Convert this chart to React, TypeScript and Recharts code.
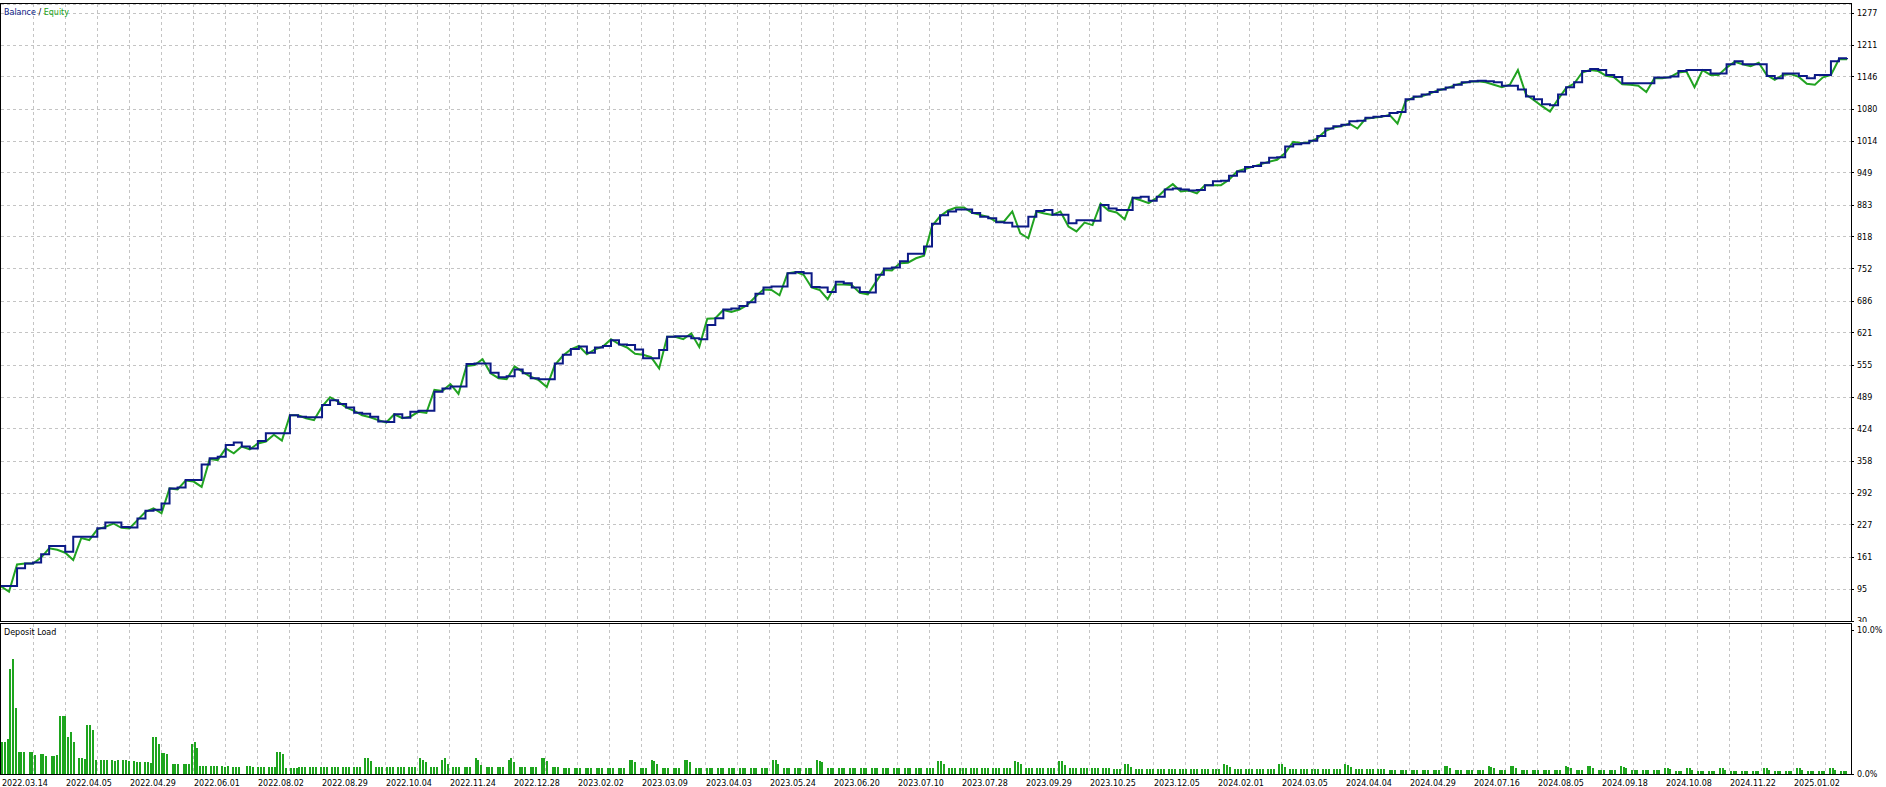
import React from 'react';
import { LineChart, Line, BarChart, Bar, XAxis, YAxis, CartesianGrid } from 'recharts';

// Balance / equity sampled along the deal axis (index i)
const balance = [
  102, 102, 138, 148, 150, 167, 184, 184, 172, 203,
  203, 203, 220, 232, 232, 223, 222, 240, 256, 258,
  271, 302, 304, 319, 319, 351, 364, 367, 391, 396,
  388, 384, 399, 415, 415, 415, 452, 449, 448, 448,
  473, 483, 475, 468, 457, 455, 449, 439, 438, 454,
  447, 459, 461, 461, 500, 507, 511, 511, 557, 558,
  558, 539, 530, 532, 546, 538, 528, 526, 526, 558,
  576, 588, 593, 580, 591, 594, 606, 597, 596, 587,
  569, 569, 586, 613, 614, 614, 610, 608, 637, 651,
  669, 671, 676, 684, 701, 714, 716, 716, 743, 746,
  743, 715, 714, 705, 726, 723, 714, 705, 704, 740,
  753, 755, 768, 783, 783, 798, 845, 862, 870, 874,
  874, 867, 859, 856, 848, 847, 839, 839, 859, 871,
  873, 863, 863, 846, 852, 852, 851, 883, 876, 873,
  873, 898, 900, 892, 900, 915, 917, 915, 913, 914,
  924, 932, 933, 943, 952, 961, 963, 970, 980, 981,
  1003, 1008, 1010, 1015, 1025, 1040, 1045, 1048, 1055, 1056,
  1062, 1064, 1066, 1072, 1074, 1100, 1106, 1110, 1115, 1120,
  1124, 1130, 1135, 1137, 1138, 1137, 1135, 1128, 1128, 1120,
  1106, 1100, 1090, 1088, 1110, 1125, 1135, 1158, 1162, 1160,
  1150, 1146, 1133, 1133, 1133, 1133, 1145, 1145, 1147, 1158,
  1160, 1160, 1160, 1153, 1153, 1172, 1178, 1172, 1172, 1172,
  1148, 1143, 1153, 1153, 1148, 1143, 1150, 1150, 1178, 1184,
  1185,
];

const equity = [
  101, 90, 146, 148, 148, 160, 179, 176, 170, 155,
  200, 196, 218, 223, 230, 221, 220, 237, 254, 261,
  251, 302, 300, 318, 316, 305, 362, 360, 384, 374,
  388, 382, 394, 398, 412, 400, 452, 452, 446, 442,
  470, 489, 480, 468, 461, 452, 448, 442, 437, 454,
  446, 449, 459, 457, 504, 502, 516, 496, 553, 555,
  567, 538, 528, 526, 552, 541, 531, 524, 510, 555,
  574, 587, 594, 577, 587, 593, 608, 598, 591, 578,
  576, 571, 548, 613, 613, 608, 620, 592, 650, 651,
  668, 664, 669, 678, 695, 710, 709, 698, 743, 746,
  740, 714, 709, 690, 720, 720, 719, 703, 700, 725,
  750, 749, 764, 765, 774, 779, 840, 860, 872, 878,
  878, 867, 863, 859, 849, 850, 870, 825, 815, 870,
  866, 863, 870, 839, 829, 847, 842, 886, 872, 868,
  854, 898, 893, 887, 898, 914, 926, 911, 913, 907,
  924, 924, 924, 935, 952, 957, 962, 967, 972, 976,
  990, 1013, 1010, 1012, 1020, 1035, 1042, 1045, 1050, 1040,
  1060, 1062, 1064, 1068, 1050, 1096, 1104, 1106, 1112, 1118,
  1122, 1128, 1133, 1136, 1137, 1135, 1130, 1125, 1130, 1160,
  1110, 1098, 1086, 1075, 1100, 1123, 1132, 1155, 1160, 1158,
  1148, 1145, 1131, 1130, 1128, 1115, 1143, 1143, 1146, 1155,
  1157, 1125, 1160, 1150, 1150, 1165, 1177, 1172, 1168, 1175,
  1150, 1140, 1150, 1152, 1146, 1132, 1130, 1145, 1150, 1182,
  1182,
];

const yTickLabels = [30, 95, 161, 227, 292, 358, 424, 489, 555, 621, 686, 752, 818, 883, 949, 1014, 1080, 1146, 1211, 1277];

const dateLabels = [
  '2022.03.14', '2022.04.05', '2022.04.29', '2022.06.01', '2022.08.02', '2022.08.29',
  '2022.10.04', '2022.11.24', '2022.12.28', '2023.02.02', '2023.03.09', '2023.04.03',
  '2023.05.24', '2023.06.20', '2023.07.10', '2023.07.28', '2023.09.29', '2023.10.25',
  '2023.12.05', '2024.02.01', '2024.03.05', '2024.04.04', '2024.04.29', '2024.07.16',
  '2024.08.05', '2024.09.18', '2024.10.08', '2024.11.22', '2025.01.02',
];

const loadTickValues = [0, 10];

// Deposit load (%) per bar slot
const depositLoad = [
  2.2, 2.2, 2.4, 7.3, 8.0, 4.6, 1.5, 1.5, 1.5, 0,
  1.5, 1.5, 1.3, 0, 1.37, 1.37, 1.25, 0, 1.25, 1.25,
  1.3, 4.0, 4.0, 4.0, 2.6, 2.9, 2.2, 0, 1.1, 1.1,
  1.06, 3.4, 3.4, 3.06, 0.97, 0, 0.97, 0.97, 0.97, 0,
  0.97, 0.93, 0.97, 0, 0.97, 0.97, 0.9, 0, 0.9, 0.86,
  0.83, 0, 0.83, 0.83, 0.79, 2.6, 2.6, 2.1, 1.48, 1.48,
  1.39, 0, 0.69, 0.69, 0.69, 0, 0.69, 0.69, 0.69, 2.1,
  2.2, 1.83, 0.56, 0.56, 0.56, 0, 0.56, 0.56, 0.56, 0,
  0.56, 0.51, 0.56, 0, 0.51, 0.51, 0.51, 0, 0, 0.56,
  0.56, 0.51, 0, 0.51, 0.51, 0.51, 0, 0.51, 0.51, 0.51,
  1.5, 1.5, 1.4, 0.44, 0, 0.44, 0.44, 0.44,
  .5, .5, .5, 0, .5, .5, .5, 0, .5, .5, .5, 0, .5, .5, .5, 0,
  .5, .5, .5, 0, .5, .5, .5, 0, 1.1, 1.1, .9, 0, .5, .5, .5, 0,
  .5, .5, .5, 0, .5, .5, .5, 0, .5, .5, .5, 0, 1.1, 1, .8, 0,
  .5, .5, .5, 0, 1, 1.1, .7, 0, .5, .5, .5, 0, .5, .5, .5, 0,
  1.1, 1, .6, 0, .5, .5, .5, 0, .5, .5, .5, 0, 1, 1.1, .8, 0,
  .5, .5, .5, 0, .5, .5, .5, 0, 1.1, 1.1, .9, 0, .5, .5, .5, 0,
  .45, .45, .45, 0, .45, .45, .45, 0, .45, .45, .45, 0, .45, .45, .45, 0,
  .45, .45, .45, 0, .45, .45, .45, 0, 1, 1, .8, 0, .45, .45, .45, 0,
  1, .9, .7, 0, .45, .45, .45, 0, .45, .45, .45, 0, 1, 1, .8, 0,
  .45, .45, .45, 0, .45, .45, .45, 0, .45, .45, .45, 0, .45, .45, .45, 0,
  .45, .45, .45, 0, .45, .45, .45, 0, .45, .45, .45, 0, 1, 1, .7, 0,
  .45, .45, .45, 0, .45, .45, .45, 0, .45, .45, .45, 0, 1, .9, .8, 0,
  .45, .45, .45, 0, .4, .4, .4, 0, .4, .4, .4, 0, .4, .4, .4, 0,
  .4, .4, .4, 0, .4, .4, .4, 0, .4, .4, .4, 0, .4, .4, .4, 0,
  .4, .4, .4, 0, .4, .4, .4, 0, .9, .9, .7, 0, .4, .4, .4, 0,
  .4, .4, .4, 0, .4, .4, .4, 0, .4, .4, .4, 0, .4, .4, .4, 0,
  .4, .4, .4, 0, .9, .8, .7, 0, .4, .4, .4, 0, .4, .4, .4, 0,
  .4, .4, .4, 0, .9, .9, .6, 0, .4, .4, .4, 0, .4, .4, .4, 0,
  .4, .4, .4, 0, .4, .4, .4, 0, .32, .32, .32, 0, .7, .7, .5, 0,
  .32, .32, .32, 0, .32, .32, .32, 0, .32, .32, .32, 0, .32, .32, .32, 0,
  .32, .32, .32, 0, .32, .32, .32, 0, .32, .32, .32, 0, .32, .32, .32, 0,
  .7, .6, .5, 0, .32, .32, .32, 0, .32, .32, .32, 0, .32, .32, .32, 0,
  .32, .32, .32, 0, .7, .7, .5, 0, .32, .32, .32, 0, .32, .32, .32, 0,
  .32, .32, .32, 0, .32, .32, .32, 0, .32, .32, .32, 0, .7, .6, .5, 0,
  .32, .32, .32, 0, .32, .32, .32, 0, .32, .32, .32, 0, .25, .25, .25, 0,
  .25, .25, .25, 0, .25, .25, .25, 0, .25, .25, .25, 0, .25, .25, .25, 0,
  .55, .55, .4, 0, .25, .25, .25, 0, .25, .25, .25, 0, .25, .25, .25, 0,
  .55, .5, .4, 0, .25, .25, .25, 0, .55, .55, .4, 0, .25, .25, .25, 0,
  .25, .25, .25, 0, .25, .25, .25, 0, .25, .25, .25, 0, .55, .5, .4, 0,
  .25, .25, .25, 0, .55, .55, .4, 0, .25, .25, .25, 0, .25, .25, .25, 0,
  .55, .5, .4, 0, .25, .25, .25, 0, .25, .25, .25, 0, .25, .25, .25, 0,
  .45, .45, .35, 0, .2, .2, .2, 0, .45, .4, .3, 0, .2, .2, .2, 0,
  .2, .2, .2, 0, .45, .45, .3, 0, .2, .2, .2, 0, .2, .2, .2, 0,
  .2, .2, .2, 0, .45, .4, .3, 0, .2, .2, .2, 0, .2, .2, .2, 0,
  .45, .45, .3, 0, .2, .2, .2, 0, .2, .2, .2, 0, .45, .4, .3, 0,
  .2, .2, .2, 0,
];

// ---- layout / style constants ----
const W = 1886;
const H = 787;
const PLOT_LEFT = 1;
const PLOT_RIGHT = 1851;
const PLOT_W = PLOT_RIGHT - PLOT_LEFT;
const MAIN_TOP = 4;
const MAIN_BOTTOM = 621;
const LOAD_TOP = 624;
const LOAD_BOTTOM = 774;
const AXIS_W = W - PLOT_RIGHT;
const XMAX = 230.5;
const YMIN = 30;
const YMAX = 1295.5;
const LOAD_MAX = 10 * (LOAD_BOTTOM - LOAD_TOP) / 144;
const GRID_STEP = 32;
const LABEL_STEP = 64;
const FONT = 'DejaVu Sans, Verdana, sans-serif';
const GRID_COLOR = '#c4c4c4';
const BAL_COLOR = '#0c1a86';
const EQ_COLOR = '#21a321';
const BAR_COLOR = '#1ea51e';

const NSLOT = depositLoad.length;
const curveData = balance.map((b, i) => ({ i, balance: b, equity: equity[i] }));
const loadData = depositLoad.map((v, s) => ({ s, v }));
const gridX: number[] = [];
for (let x = PLOT_LEFT + GRID_STEP; x < PLOT_RIGHT; x += GRID_STEP) gridX.push(x + 0.5);
// date label ticks expressed in bar-slot units (slot axis spans [-0.5, NSLOT-0.5])
const dateTicks = dateLabels.map((_, k) => (k * LABEL_STEP * NSLOT) / PLOT_W - 0.5);

const css = `
.recharts-cartesian-grid line { shape-rendering: crispEdges; }
.recharts-bar-rectangle path { shape-rendering: crispEdges; }
.recharts-cartesian-axis-line, .recharts-cartesian-axis-tick-line { shape-rendering: crispEdges; }
`;

const YTick = (props: any) => {
  const { x, y, payload } = props;
  return (
    <text x={x} y={y} dy={3} fontSize={8} fontFamily={FONT} fill="#000" textAnchor="start">
      {payload.value}
    </text>
  );
};

const LoadTick = (props: any) => {
  const { x, y, payload } = props;
  return (
    <text x={x} y={y} dy={3} fontSize={8} fontFamily={FONT} fill="#000" textAnchor="start">
      {payload.value.toFixed(1)}%
    </text>
  );
};

const DateTick = (props: any) => {
  const { x, index } = props;
  return (
    <text x={x + 1} y={786} fontSize={8} fontFamily={FONT} fill="#000" textAnchor="start">
      {dateLabels[index]}
    </text>
  );
};

export default function App() {
  return (
    <div style={{ position: 'absolute', left: 0, top: 0, width: W, height: H, background: '#fff', overflow: 'hidden' }}>
      <style>{css}</style>
      <div style={{ position: 'absolute', left: 0, top: 0 }}>
        <LineChart
          width={W}
          height={MAIN_BOTTOM + 1}
          data={curveData}
          margin={{ top: MAIN_TOP, right: 0, bottom: 1, left: PLOT_LEFT }}
        >
          <CartesianGrid stroke={GRID_COLOR} strokeDasharray="3 3" verticalPoints={gridX} />
          <XAxis dataKey="i" type="number" domain={[0, XMAX]} allowDataOverflow hide />
          <YAxis
            orientation="right"
            width={AXIS_W}
            domain={[YMIN, YMAX]}
            allowDataOverflow
            ticks={yTickLabels}
            interval={0}
            tick={YTick}
            tickSize={3}
            tickMargin={3}
            axisLine={{ stroke: '#000' }}
            tickLine={{ stroke: '#000' }}
          />
          <Line type="linear" dataKey="equity" stroke={EQ_COLOR} strokeWidth={2} dot={false} isAnimationActive={false} />
          <Line type="stepAfter" dataKey="balance" stroke={BAL_COLOR} strokeWidth={2} dot={false} isAnimationActive={false} />
        </LineChart>
      </div>
      <div style={{ position: 'absolute', left: 0, top: 0 }}>
        <BarChart
          width={W}
          height={H}
          data={loadData}
          margin={{ top: LOAD_TOP, right: 0, bottom: 0, left: PLOT_LEFT }}
          barCategoryGap={0}
          barGap={0}
        >
          <CartesianGrid xAxisId="d" stroke={GRID_COLOR} strokeDasharray="3 3" horizontal={false} verticalPoints={gridX} />
          <XAxis xAxisId="s" dataKey="s" type="category" hide />
          <XAxis
            xAxisId="d"
            dataKey="s"
            type="number"
            domain={[-0.5, NSLOT - 0.5]}
            allowDataOverflow
            ticks={dateTicks}
            interval={0}
            height={H - LOAD_BOTTOM}
            tick={DateTick}
            tickSize={3}
            axisLine={{ stroke: '#000' }}
            tickLine={false}
          />
          <YAxis
            orientation="right"
            width={AXIS_W}
            domain={[0, LOAD_MAX]}
            allowDataOverflow
            ticks={loadTickValues}
            interval={0}
            tick={LoadTick}
            tickSize={3}
            tickMargin={3}
            axisLine={{ stroke: '#000' }}
            tickLine={{ stroke: '#000' }}
          />
          <Bar xAxisId="s" dataKey="v" fill={BAR_COLOR} barSize={2} isAnimationActive={false} />
        </BarChart>
      </div>
      {/* panel frames */}
      <div style={{ position: 'absolute', left: 0, top: MAIN_TOP - 1, width: PLOT_RIGHT + 1, height: MAIN_BOTTOM - MAIN_TOP + 2, border: '1px solid #000', boxSizing: 'border-box', pointerEvents: 'none' }} />
      <div style={{ position: 'absolute', left: 0, top: LOAD_TOP - 1, width: PLOT_RIGHT + 1, height: LOAD_BOTTOM - LOAD_TOP + 2, border: '1px solid #000', boxSizing: 'border-box', pointerEvents: 'none' }} />
      <svg style={{ position: 'absolute', left: 0, top: 0, pointerEvents: 'none' }} width={300} height={H}>
        <text x={4} y={15} fontSize={8} fontFamily={FONT}>
          <tspan fill={BAL_COLOR}>Balance</tspan>
          <tspan fill="#000"> / </tspan>
          <tspan fill={EQ_COLOR}>Equity</tspan>
        </text>
        <text x={4} y={635} fontSize={8} fontFamily={FONT} fill="#000">Deposit Load</text>
      </svg>
    </div>
  );
}
